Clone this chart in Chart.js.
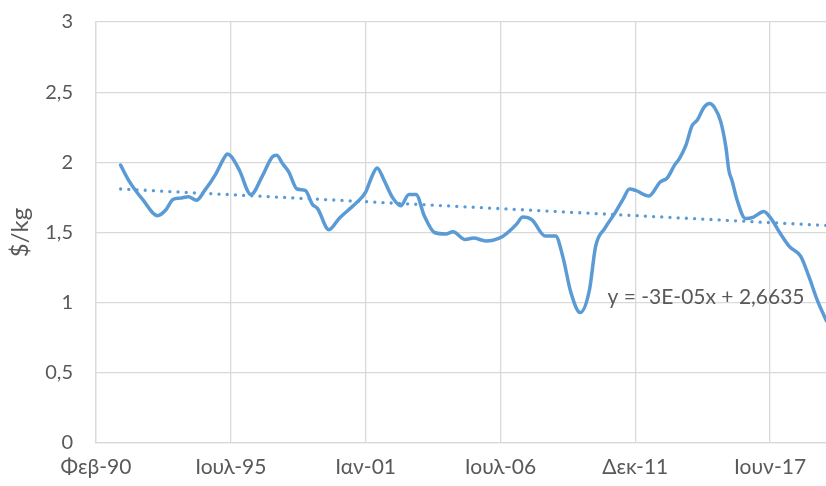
<!DOCTYPE html>
<html>
<head>
<meta charset="utf-8">
<script src="https://cdn.jsdelivr.net/npm/chart.js@4/dist/chart.umd.min.js"></script>
<style>
  html, body { margin: 0; padding: 0; background: #fff; overflow: hidden; }
</style>
</head>
<body>
<canvas id="priceChart" width="826" height="486"></canvas>
<script>
// months after Φεβ-90 (12-month moving average)
const months = [12, 16, 23, 30, 34, 37.5, 41, 45, 49, 53, 58.5, 62, 64, 66, 70, 75.5, 81, 86, 88, 91,
  94, 98, 102, 105.5, 108, 113.5, 118.5, 123, 127.5, 131.5, 134.5, 137, 140.5, 144.5, 148.5, 152.5,
  156, 160, 165, 170.5, 174, 180, 184, 190, 193.5, 198, 201.5, 205, 208, 212.5, 219, 224, 227.5,
  231.5, 236, 240.5, 243.5, 248, 253, 257, 260, 263, 269.5, 275, 278.5, 282, 284.5, 287.5, 290.5,
  293, 296.5, 299, 301.5, 304.5, 307, 308.5, 310, 312.5, 316.5, 320.5, 325.5, 329, 333, 338, 343.5,
  347.5, 351.5, 356];
const price = [1.98, 1.87, 1.73, 1.62, 1.66, 1.735, 1.745, 1.755, 1.73, 1.80, 1.92, 2.02, 2.06, 2.04,
  1.94, 1.77, 1.90, 2.04, 2.05, 1.99, 1.93, 1.81, 1.80, 1.70, 1.67, 1.52, 1.60, 1.66, 1.72, 1.79,
  1.90, 1.96, 1.87, 1.75, 1.69, 1.77, 1.77, 1.62, 1.50, 1.49, 1.505, 1.45, 1.46, 1.44, 1.445, 1.47,
  1.51, 1.56, 1.61, 1.59, 1.475, 1.475, 1.33, 1.07, 0.93, 1.09, 1.40, 1.53, 1.64, 1.74, 1.81, 1.80,
  1.76, 1.86, 1.89, 1.98, 2.03, 2.12, 2.26, 2.30, 2.395, 2.42, 2.39, 2.29, 2.11, 1.94, 1.87, 1.73,
  1.60, 1.61, 1.65, 1.60, 1.505, 1.40, 1.33, 1.185, 1.02, 0.87];

// linear trendline ends
const trendMonths = [12, 356];
const trendValues = [1.81, 1.55];
const trendLabel = 'y = -3E-05x + 2,6635';

// date axis: major unit of 2000 days from Φεβ-90
const tickDays = [0, 2000, 4000, 6000, 8000, 10000];
const tickLabels = ['Φεβ-90', 'Ιουλ-95', 'Ιαν-01', 'Ιουλ-06', 'Δεκ-11', 'Ιουν-17'];
const yTicks = [0, 0.5, 1, 1.5, 2, 2.5, 3];

const DAYS_PER_MONTH = 30.4375;
const FONT = "Lato, 'Open Sans', 'Noto Sans', sans-serif";
const TEXT_COLOR = '#595959';
const GRID_COLOR = '#d9d9d9';
const BLUE = '#5b9bd5';

const toPoints = (xs, ys) => xs.map((m, i) => ({ x: m * DAYS_PER_MONTH, y: ys[i] }));

const equationLabel = {
  id: 'equationLabel',
  afterDatasetsDraw(chart) {
    const { ctx, chartArea, scales } = chart;
    ctx.save();
    ctx.font = '21px ' + FONT;
    ctx.fillStyle = TEXT_COLOR;
    ctx.textAlign = 'center';
    ctx.textBaseline = 'middle';
    ctx.fillText(trendLabel, chartArea.right - 120, scales.y.getPixelForValue(1.04));
    ctx.restore();
  }
};

new Chart(document.getElementById('priceChart'), {
  type: 'line',
  data: {
    datasets: [
      {
        label: 'trend',
        data: toPoints(trendMonths, trendValues),
        borderColor: BLUE,
        borderWidth: 3.3,
        borderDash: [0.01, 8.2],
        borderCapStyle: 'round',
        pointRadius: 0,
        fill: false,
        order: 0
      },
      {
        label: '$/kg',
        data: toPoints(months, price),
        borderColor: BLUE,
        borderWidth: 3.5,
        borderCapStyle: 'round',
        borderJoinStyle: 'round',
        cubicInterpolationMode: 'monotone',
        pointRadius: 0,
        fill: false,
        order: 1
      }
    ]
  },
  options: {
    responsive: false,
    animation: false,
    devicePixelRatio: 1,
    layout: { padding: { top: 22, right: 0, bottom: 0, left: 0 } },
    plugins: {
      legend: { display: false },
      tooltip: { enabled: false }
    },
    scales: {
      x: {
        type: 'linear',
        min: 0,
        max: 10830,
        afterBuildTicks: scale => { scale.ticks = tickDays.map(v => ({ value: v })); },
        afterFit: scale => { scale.height = 43; },
        ticks: {
          padding: 12,
          color: TEXT_COLOR,
          font: { family: FONT, size: 21 },
          maxRotation: 0,
          autoSkip: false,
          callback: value => tickLabels[tickDays.indexOf(value)]
        },
        grid: { color: GRID_COLOR, lineWidth: 1.3, drawTicks: false },
        border: { color: GRID_COLOR, width: 1.3 }
      },
      y: {
        min: 0,
        max: 3,
        afterBuildTicks: scale => { scale.ticks = yTicks.map(v => ({ value: v })); },
        afterFit: scale => {
          scale.width = 96;
          scale.paddingTop = 0;
          scale.paddingBottom = 0;
        },
        ticks: {
          padding: 23,
          color: TEXT_COLOR,
          font: { family: FONT, size: 20 },
          callback: value => String(value).replace('.', ',')
        },
        grid: { color: GRID_COLOR, lineWidth: 1.3, drawTicks: false },
        border: { color: GRID_COLOR, width: 1.3 },
        title: {
          display: true,
          text: '$/kg',
          color: TEXT_COLOR,
          font: { family: FONT, size: 24 },
          padding: { top: 6, bottom: 0 }
        }
      }
    }
  },
  plugins: [equationLabel]
});
</script>
</body>
</html>
